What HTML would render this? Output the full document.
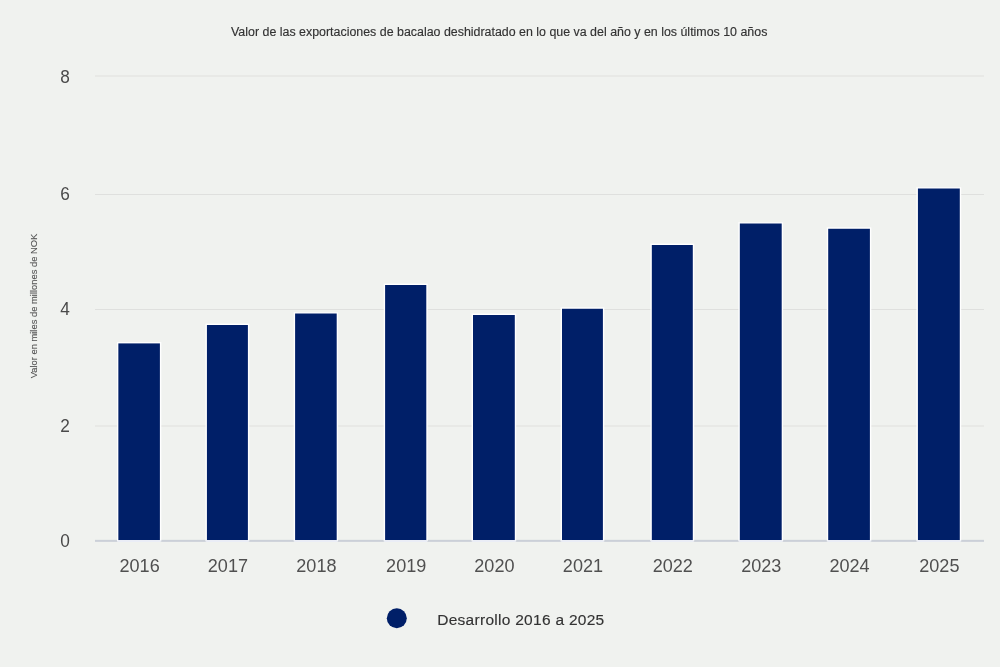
<!DOCTYPE html>
<html><head><meta charset="utf-8"><style>
html,body{margin:0;padding:0;background:#f0f2ef;}
body{width:1000px;height:667px;overflow:hidden;}
svg{display:block;font-family:"Liberation Sans",sans-serif;}
text{filter:grayscale(1);}
</style></head><body>
<svg width="1000" height="667" viewBox="0 0 1000 667">
<rect x="0" y="0" width="1000" height="667" fill="#f0f2ef"/>
<text x="499.2" y="36" text-anchor="middle" font-size="12.42" fill="#333333" stroke="#333333" stroke-width="0.15">Valor de las exportaciones de bacalao deshidratado en lo que va del año y en los últimos 10 años</text>
<text transform="translate(36.9,306) rotate(-90)" text-anchor="middle" font-size="9.4" fill="#555555" stroke="#555555" stroke-width="0.12">Valor en miles de millones de NOK</text>
<rect x="95" y="75.5" width="889" height="1" fill="#dfe0de"/>
<rect x="95" y="194.0" width="889" height="1" fill="#dfe0de"/>
<rect x="95" y="309.0" width="889" height="1" fill="#dfe0de"/>
<rect x="95" y="425.5" width="889" height="1" fill="#dfe0de"/>
<text x="69.8" y="83.10" text-anchor="end" font-size="18.8" textLength="9.6" lengthAdjust="spacingAndGlyphs" fill="#4a4a4a">8</text>
<text x="69.8" y="200.40" text-anchor="end" font-size="18.8" textLength="9.6" lengthAdjust="spacingAndGlyphs" fill="#4a4a4a">6</text>
<text x="69.8" y="315.10" text-anchor="end" font-size="18.8" textLength="9.6" lengthAdjust="spacingAndGlyphs" fill="#4a4a4a">4</text>
<text x="69.8" y="432.20" text-anchor="end" font-size="18.8" textLength="9.6" lengthAdjust="spacingAndGlyphs" fill="#4a4a4a">2</text>
<text x="69.8" y="546.90" text-anchor="end" font-size="18.8" textLength="9.6" lengthAdjust="spacingAndGlyphs" fill="#4a4a4a">0</text>
<rect x="95" y="539.85" width="889" height="2" fill="#cbd0d8"/>
<rect x="117.65" y="342.70" width="42.95" height="198.00" fill="#001f68" stroke="#ffffff" stroke-width="1.4"/>
<rect x="117.65" y="540.0" width="42.95" height="2.0" fill="#eaedf6"/>
<text x="139.62" y="571.9" text-anchor="middle" font-size="18.6" textLength="40.2" lengthAdjust="spacingAndGlyphs" fill="#505050">2016</text>
<rect x="206.20" y="324.30" width="42.40" height="216.40" fill="#001f68" stroke="#ffffff" stroke-width="1.4"/>
<rect x="206.20" y="540.0" width="42.40" height="2.0" fill="#eaedf6"/>
<text x="227.90" y="571.9" text-anchor="middle" font-size="18.6" textLength="40.2" lengthAdjust="spacingAndGlyphs" fill="#505050">2017</text>
<rect x="294.40" y="312.80" width="43.00" height="227.90" fill="#001f68" stroke="#ffffff" stroke-width="1.4"/>
<rect x="294.40" y="540.0" width="43.00" height="2.0" fill="#eaedf6"/>
<text x="316.40" y="571.9" text-anchor="middle" font-size="18.6" textLength="40.2" lengthAdjust="spacingAndGlyphs" fill="#505050">2018</text>
<rect x="384.40" y="284.30" width="42.60" height="256.40" fill="#001f68" stroke="#ffffff" stroke-width="1.4"/>
<rect x="384.40" y="540.0" width="42.60" height="2.0" fill="#eaedf6"/>
<text x="406.20" y="571.9" text-anchor="middle" font-size="18.6" textLength="40.2" lengthAdjust="spacingAndGlyphs" fill="#505050">2019</text>
<rect x="472.30" y="314.30" width="43.20" height="226.40" fill="#001f68" stroke="#ffffff" stroke-width="1.4"/>
<rect x="472.30" y="540.0" width="43.20" height="2.0" fill="#eaedf6"/>
<text x="494.40" y="571.9" text-anchor="middle" font-size="18.6" textLength="40.2" lengthAdjust="spacingAndGlyphs" fill="#505050">2020</text>
<rect x="561.30" y="308.05" width="42.30" height="232.65" fill="#001f68" stroke="#ffffff" stroke-width="1.4"/>
<rect x="561.30" y="540.0" width="42.30" height="2.0" fill="#eaedf6"/>
<text x="582.95" y="571.9" text-anchor="middle" font-size="18.6" textLength="40.2" lengthAdjust="spacingAndGlyphs" fill="#505050">2021</text>
<rect x="651.10" y="244.30" width="42.40" height="296.40" fill="#001f68" stroke="#ffffff" stroke-width="1.4"/>
<rect x="651.10" y="540.0" width="42.40" height="2.0" fill="#eaedf6"/>
<text x="672.80" y="571.9" text-anchor="middle" font-size="18.6" textLength="40.2" lengthAdjust="spacingAndGlyphs" fill="#505050">2022</text>
<rect x="739.10" y="222.80" width="43.30" height="317.90" fill="#001f68" stroke="#ffffff" stroke-width="1.4"/>
<rect x="739.10" y="540.0" width="43.30" height="2.0" fill="#eaedf6"/>
<text x="761.25" y="571.9" text-anchor="middle" font-size="18.6" textLength="40.2" lengthAdjust="spacingAndGlyphs" fill="#505050">2023</text>
<rect x="827.50" y="228.05" width="43.10" height="312.65" fill="#001f68" stroke="#ffffff" stroke-width="1.4"/>
<rect x="827.50" y="540.0" width="43.10" height="2.0" fill="#eaedf6"/>
<text x="849.55" y="571.9" text-anchor="middle" font-size="18.6" textLength="40.2" lengthAdjust="spacingAndGlyphs" fill="#505050">2024</text>
<rect x="917.20" y="187.80" width="43.30" height="352.90" fill="#001f68" stroke="#ffffff" stroke-width="1.4"/>
<rect x="917.20" y="540.0" width="43.30" height="2.0" fill="#eaedf6"/>
<text x="939.35" y="571.9" text-anchor="middle" font-size="18.6" textLength="40.2" lengthAdjust="spacingAndGlyphs" fill="#505050">2025</text>
<circle cx="396.8" cy="618.3" r="10" fill="#001f68"/>
<text x="437.2" y="624.6" font-size="15.5" letter-spacing="0.28" fill="#333333" stroke="#333333" stroke-width="0.15">Desarrollo 2016 a 2025</text>
</svg>
</body></html>
